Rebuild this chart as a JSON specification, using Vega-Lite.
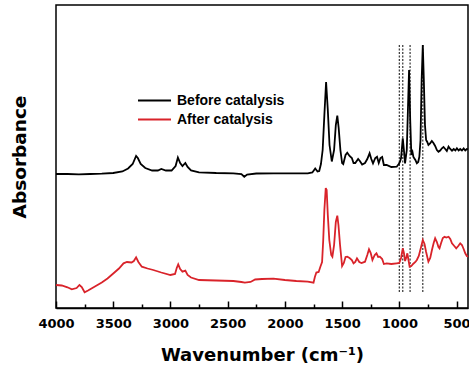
{
  "$schema": "https://vega.github.io/schema/vega-lite/v6.json",
  "width": 412,
  "height": 303,
  "autosize": {"type": "none"},
  "padding": {"left": 56, "top": 5, "right": 1, "bottom": 61},
  "background": "white",
  "config": {
    "view": {"stroke": "black", "strokeWidth": 1.5},
    "font": "DejaVu Sans"
  },
  "datasets": {
    "before": [
      {"wn":4000,"a":134},{"wn":3900,"a":134},{"wn":3800,"a":133.7},{"wn":3700,"a":134},{"wn":3600,"a":134.3},{"wn":3500,"a":135},{"wn":3420,"a":136.5},{"wn":3370,"a":139.5},{"wn":3330,"a":144},{"wn":3300,"a":152},{"wn":3285,"a":150},{"wn":3260,"a":144},{"wn":3220,"a":140},{"wn":3160,"a":137.5},{"wn":3110,"a":137.5},{"wn":3080,"a":139},{"wn":3040,"a":137.5},{"wn":2990,"a":137.5},{"wn":2955,"a":142},{"wn":2935,"a":150.5},{"wn":2915,"a":145},{"wn":2895,"a":142},{"wn":2870,"a":145},{"wn":2850,"a":141},{"wn":2820,"a":137.5},{"wn":2750,"a":135.7},{"wn":2600,"a":135},{"wn":2450,"a":134.7},{"wn":2380,"a":134},{"wn":2355,"a":131.3},{"wn":2330,"a":133.5},{"wn":2250,"a":134.5},{"wn":2100,"a":134.7},{"wn":1950,"a":134.7},{"wn":1800,"a":134.7},{"wn":1760,"a":135.5},{"wn":1735,"a":139.5},{"wn":1715,"a":136.5},{"wn":1700,"a":137},{"wn":1685,"a":144},{"wn":1670,"a":158},{"wn":1655,"a":193},{"wn":1640,"a":226},{"wn":1625,"a":198},{"wn":1610,"a":163},{"wn":1590,"a":146.5},{"wn":1570,"a":158},{"wn":1555,"a":183},{"wn":1542,"a":192.3},{"wn":1530,"a":180},{"wn":1515,"a":158},{"wn":1500,"a":145},{"wn":1490,"a":144},{"wn":1470,"a":153},{"wn":1455,"a":155.3},{"wn":1435,"a":152},{"wn":1415,"a":150},{"wn":1400,"a":145},{"wn":1385,"a":145},{"wn":1360,"a":149},{"wn":1345,"a":147},{"wn":1325,"a":143.5},{"wn":1300,"a":145},{"wn":1280,"a":149},{"wn":1260,"a":154.7},{"wn":1245,"a":149},{"wn":1230,"a":144.7},{"wn":1210,"a":150},{"wn":1195,"a":151.3},{"wn":1180,"a":145},{"wn":1165,"a":150},{"wn":1150,"a":151},{"wn":1135,"a":143},{"wn":1111,"a":143},{"wn":1070,"a":141},{"wn":1023,"a":141.3},{"wn":1005,"a":144},{"wn":994,"a":146.3},{"wn":985,"a":150},{"wn":970,"a":169.7},{"wn":960,"a":158},{"wn":950,"a":144.7},{"wn":935,"a":158},{"wn":925,"a":198},{"wn":915,"a":238},{"wn":905,"a":188},{"wn":895,"a":153},{"wn":885,"a":156},{"wn":877,"a":151},{"wn":860,"a":148},{"wn":847,"a":144.7},{"wn":835,"a":146},{"wn":825,"a":151.3},{"wn":815,"a":168},{"wn":805,"a":228},{"wn":795,"a":263},{"wn":786,"a":228},{"wn":776,"a":183},{"wn":766,"a":168},{"wn":756,"a":166},{"wn":746,"a":163},{"wn":731,"a":164.7},{"wn":716,"a":167},{"wn":702,"a":165},{"wn":687,"a":162},{"wn":672,"a":158},{"wn":658,"a":156.3},{"wn":643,"a":157.5},{"wn":628,"a":159.7},{"wn":614,"a":161},{"wn":599,"a":159},{"wn":585,"a":157},{"wn":570,"a":161.3},{"wn":555,"a":159},{"wn":540,"a":157.3},{"wn":525,"a":159},{"wn":510,"a":157.5},{"wn":497,"a":159.7},{"wn":482,"a":157.5},{"wn":468,"a":159},{"wn":453,"a":157.5},{"wn":438,"a":159.5},{"wn":424,"a":157.5},{"wn":410,"a":159},{"wn":400,"a":158.7}
    ],
    "after": [
      {"wn":4000,"a":23},{"wn":3950,"a":22.5},{"wn":3900,"a":20.7},{"wn":3862,"a":18.7},{"wn":3820,"a":20},{"wn":3795,"a":23},{"wn":3775,"a":21},{"wn":3750,"a":15.7},{"wn":3720,"a":17.5},{"wn":3660,"a":21.5},{"wn":3600,"a":25.5},{"wn":3550,"a":29.5},{"wn":3497,"a":34.7},{"wn":3450,"a":39.5},{"wn":3410,"a":44.7},{"wn":3380,"a":46},{"wn":3340,"a":45.5},{"wn":3320,"a":47},{"wn":3300,"a":50.7},{"wn":3280,"a":46},{"wn":3250,"a":41.3},{"wn":3200,"a":39.5},{"wn":3150,"a":38},{"wn":3080,"a":35.5},{"wn":3000,"a":33},{"wn":2960,"a":34},{"wn":2945,"a":40},{"wn":2932,"a":43.7},{"wn":2915,"a":39},{"wn":2895,"a":36.3},{"wn":2870,"a":37.3},{"wn":2850,"a":33},{"wn":2820,"a":30.5},{"wn":2750,"a":28},{"wn":2600,"a":27.5},{"wn":2450,"a":27},{"wn":2380,"a":26},{"wn":2350,"a":25.3},{"wn":2300,"a":26},{"wn":2260,"a":28.5},{"wn":2200,"a":29},{"wn":2100,"a":29.3},{"wn":2000,"a":28},{"wn":1900,"a":27},{"wn":1800,"a":26.3},{"wn":1750,"a":25.3},{"wn":1738,"a":31},{"wn":1725,"a":35.5},{"wn":1705,"a":36},{"wn":1690,"a":41.3},{"wn":1675,"a":46},{"wn":1665,"a":68},{"wn":1655,"a":98},{"wn":1643,"a":120},{"wn":1635,"a":118},{"wn":1625,"a":93},{"wn":1612,"a":68},{"wn":1595,"a":53},{"wn":1585,"a":51.3},{"wn":1570,"a":63},{"wn":1555,"a":86},{"wn":1542,"a":92.3},{"wn":1532,"a":83},{"wn":1518,"a":63},{"wn":1500,"a":42},{"wn":1485,"a":45},{"wn":1470,"a":51},{"wn":1455,"a":51.3},{"wn":1435,"a":50},{"wn":1415,"a":48},{"wn":1400,"a":44.7},{"wn":1385,"a":46},{"wn":1370,"a":49.7},{"wn":1350,"a":46},{"wn":1330,"a":45},{"wn":1300,"a":46.3},{"wn":1280,"a":53},{"wn":1265,"a":58.7},{"wn":1250,"a":55},{"wn":1235,"a":48},{"wn":1215,"a":53},{"wn":1200,"a":54.7},{"wn":1185,"a":51},{"wn":1170,"a":51.3},{"wn":1150,"a":49},{"wn":1135,"a":44},{"wn":1111,"a":44.7},{"wn":1070,"a":44},{"wn":1023,"a":44.7},{"wn":1000,"a":45},{"wn":985,"a":50},{"wn":970,"a":59.7},{"wn":960,"a":55},{"wn":950,"a":47},{"wn":938,"a":51},{"wn":930,"a":54.7},{"wn":920,"a":48},{"wn":910,"a":41.3},{"wn":895,"a":42},{"wn":880,"a":44},{"wn":860,"a":46},{"wn":847,"a":48},{"wn":830,"a":52},{"wn":810,"a":61},{"wn":795,"a":68},{"wn":780,"a":64},{"wn":766,"a":56},{"wn":746,"a":46.3},{"wn":730,"a":50},{"wn":715,"a":58},{"wn":700,"a":65},{"wn":687,"a":69.7},{"wn":672,"a":66},{"wn":658,"a":61},{"wn":649,"a":59.7},{"wn":635,"a":65},{"wn":620,"a":70},{"wn":605,"a":71.3},{"wn":590,"a":70.5},{"wn":570,"a":71.3},{"wn":555,"a":69},{"wn":540,"a":64.7},{"wn":520,"a":62},{"wn":503,"a":59.7},{"wn":485,"a":62},{"wn":468,"a":64.7},{"wn":453,"a":63},{"wn":438,"a":59},{"wn":424,"a":54.7},{"wn":410,"a":52},{"wn":400,"a":51.3}
    ],
    "marks": [
      {"wn":1000,"top":263,"bottom":15},
      {"wn":970,"top":263,"bottom":15},
      {"wn":906,"top":263,"bottom":15},
      {"wn":795,"top":263,"bottom":15}
    ]
  },
  "layer": [
    {
      "data": {"name": "marks"},
      "mark": {"type": "rule", "color": "#333333", "strokeWidth": 1.2, "strokeDash": [2, 1.5]},
      "encoding": {
        "x": {"field": "wn", "type": "quantitative",
          "scale": {"domain": [400, 4000], "reverse": true, "nice": false, "zero": false},
          "axis": {"values": [4000,3500,3000,2500,2000,1500,1000,500], "format": "d", "orient": "bottom",
            "labelFont": "DejaVu Sans", "labelFontWeight": "bold", "labelFontSize": 13, "labelColor": "black",
            "labelPadding": 16, "labelFlush": false, "labelOverlap": false,
            "tickColor": "black", "tickSize": -7, "tickWidth": 1.5,
            "domainColor": "black", "domainWidth": 1.5, "grid": false,
            "title": "Wavenumber (cm⁻¹)", "titleFont": "DejaVu Sans", "titleFontSize": 18, "titleFontWeight": "bold",
            "titleColor": "black", "titlePadding": 16}},
        "y": {"field": "top", "type": "quantitative",
          "scale": {"domain": [0, 303], "nice": false, "zero": false},
          "axis": {"labels": false, "ticks": false, "domain": false, "grid": false,
            "title": "Absorbance", "titleFont": "DejaVu Sans", "titleFontSize": 18.5, "titleFontWeight": "bold",
            "titleColor": "black", "titlePadding": 27}},
        "y2": {"field": "bottom"}
      }
    },
    {
      "data": {"name": "before"},
      "mark": {"type": "line", "strokeWidth": 1.8},
      "encoding": {
        "x": {"field": "wn", "type": "quantitative", "axis": null},
        "y": {"field": "a", "type": "quantitative"},
        "color": {"datum": "Before catalysis", "type": "nominal",
          "scale": {"domain": ["Before catalysis", "After catalysis"], "range": ["#000000", "#d9232a"]},
          "legend": {"orient": "none", "legendX": 89, "legendY": 86, "title": null,
            "symbolType": "M-2,0H2", "symbolSize": 272, "symbolStrokeWidth": 2, "symbolFillColor": "transparent",
            "labelFont": "Liberation Sans", "labelFontSize": 14, "labelFontWeight": "bold", "labelColor": "black",
            "labelOffset": 13, "rowPadding": 2, "padding": 0}}
      }
    },
    {
      "data": {"name": "after"},
      "mark": {"type": "line", "strokeWidth": 1.8},
      "encoding": {
        "x": {"field": "wn", "type": "quantitative", "axis": null},
        "y": {"field": "a", "type": "quantitative"},
        "color": {"datum": "After catalysis", "type": "nominal"}
      }
    },
    {
      "data": {"name": "marks"},
      "mark": {"type": "tick", "opacity": 0},
      "encoding": {
        "x": {"field": "wn", "type": "quantitative",
          "axis": {"values": [3750,3250,2750,2250,1750,1250,750], "orient": "bottom", "labels": false,
            "domain": false, "grid": false, "title": null, "tickColor": "black", "tickSize": -4, "tickWidth": 1.5}}
      }
    }
  ],
  "resolve": {"axis": {"x": "independent"}}
}
